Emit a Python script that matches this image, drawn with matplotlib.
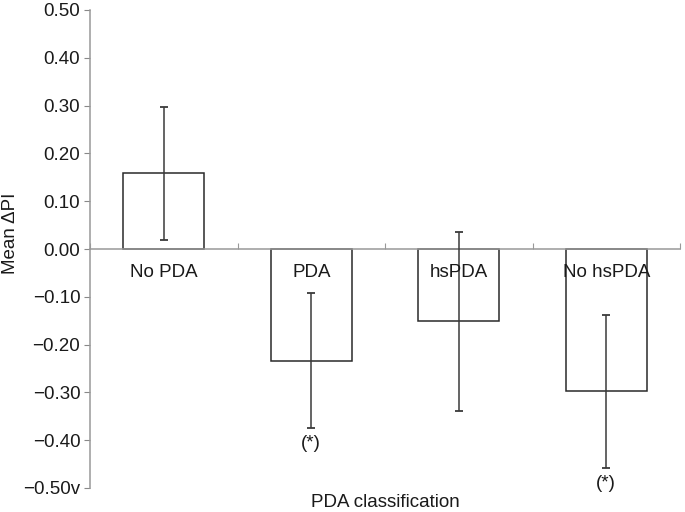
import matplotlib
matplotlib.use("Agg")
import matplotlib.pyplot as plt

categories = ["No PDA", "PDA", "hsPDA", "No hsPDA"]
means = [0.158, -0.234, -0.151, -0.298]
err = [0.140, 0.141, 0.187, 0.160]
signif = [False, True, False, True]
yticks = [0.5, 0.4, 0.3, 0.2, 0.1, 0.0, -0.1, -0.2, -0.3, -0.4, -0.5]
ytick_labels = ["0.50", "0.40", "0.30", "0.20", "0.10", "0.00",
                "\u22120.10", "\u22120.20", "\u22120.30", "\u22120.40", "\u22120.50v"]

plt.rcParams['font.family'] = ['Liberation Sans', 'DejaVu Sans']
fig = plt.figure(figsize=(6.85, 5.12), dpi=100)
ax = fig.add_axes([90/685, 24/512, 590/685, 478/512])

x = list(range(len(categories)))
ax.bar(x, means, width=0.55, color='white', edgecolor='#2a2a2a', linewidth=1.1, zorder=2)
ax.errorbar(x, means, yerr=err, fmt='none', ecolor='#3a3a3a', elinewidth=1.1,
            capsize=3, capthick=1.3, zorder=3)

ax.set_xlim(-0.5, 3.5)
ax.set_ylim(-0.5, 0.5)
ax.set_yticks(yticks)
ax.set_yticklabels(ytick_labels, fontsize=13.5, color='#1a1a1a')
ax.tick_params(axis='y', direction='out', length=4, color='#888888', pad=3)

ax.set_xticks([-0.5, 0.5, 1.5, 2.5, 3.5])
ax.set_xticklabels([])
ax.tick_params(axis='x', direction='in', length=4, color='#999999')

for s in ['top', 'right']:
    ax.spines[s].set_visible(False)
ax.spines['bottom'].set_position(('data', 0))
ax.spines['bottom'].set_color('#999999')
ax.spines['left'].set_color('#999999')
ax.spines['bottom'].set_linewidth(1.1)
ax.spines['left'].set_linewidth(1.1)

for i, c in enumerate(categories):
    ax.text(i, -0.05, c, ha='center', va='center', fontsize=13.5, color='#1a1a1a', zorder=4)
    if signif[i]:
        ax.annotate("(*)", xy=(i, means[i] - err[i]), xytext=(0, -5),
                    textcoords='offset points', ha='center', va='top',
                    fontsize=13.5, color='#1a1a1a')

ax.text(0.5, -0.031, "PDA classification", transform=ax.transAxes,
        ha='center', va='center', fontsize=13.5, color='#1a1a1a')
fig.text(11/685, 1 - 233/512, "Mean \u0394PI", rotation=90, ha='center', va='center',
         fontsize=13.5, color='#1a1a1a')

fig.savefig("out.png", dpi=100)
